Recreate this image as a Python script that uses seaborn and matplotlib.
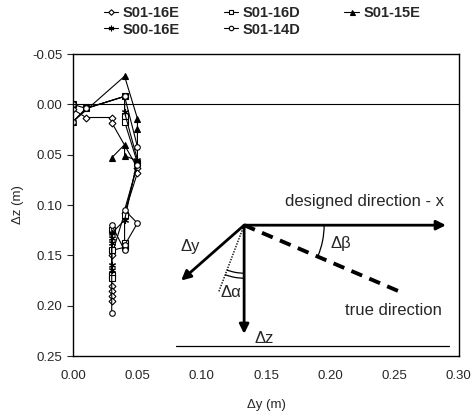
import numpy as np
import pandas as pd
import seaborn as sns
import matplotlib.pyplot as plt
from matplotlib.patches import Arc
from matplotlib.transforms import ScaledTranslation

# Desvios medidos (m) por furo
s01_16e_y = [0.00, 0.01, 0.03, 0.03, 0.05, 0.05, 0.04, 0.03, 0.03, 0.03, 0.03, 0.03]
s01_16e_z = [0.005, 0.013, 0.013, 0.018, 0.063, 0.068, 0.108, 0.150, 0.180, 0.185, 0.190, 0.195]

s01_16d_y = [0.00, 0.01, 0.04, 0.04, 0.04, 0.05, 0.04, 0.04, 0.04, 0.03, 0.03, 0.03, 0.03]
s01_16d_z = [0.000, 0.004, -0.008, 0.012, 0.017, 0.058, 0.110, 0.138, 0.142, 0.145, 0.125, 0.170, 0.172]

s01_15e_y = [0.00, 0.04, 0.05, 0.05, 0.05, 0.04, 0.04, 0.03]
s01_15e_z = [0.017, -0.028, 0.014, 0.024, 0.056, 0.051, 0.040, 0.053]

s00_16e_y = [0.00, 0.01, 0.04, 0.04, 0.05, 0.04, 0.03, 0.03, 0.03, 0.03, 0.03]
s00_16e_z = [0.017, 0.004, -0.008, 0.008, 0.055, 0.115, 0.128, 0.133, 0.138, 0.160, 0.165]

s01_14d_y = [0.00, 0.00, 0.01, 0.04, 0.05, 0.05, 0.04, 0.05, 0.04, 0.04, 0.03, 0.03]
s01_14d_z = [0.000, 0.017, 0.004, -0.008, 0.042, 0.060, 0.105, 0.118, 0.140, 0.145, 0.120, 0.207]

series = ["S01-16E", "S01-16D", "S01-15E", "S00-16E", "S01-14D"]
dados = [(s01_16e_y, s01_16e_z), (s01_16d_y, s01_16d_z), (s01_15e_y, s01_15e_z),
         (s00_16e_y, s00_16e_z), (s01_14d_y, s01_14d_z)]
marcadores = ["D", "s", "^", (6, 2, 0), "o"]
preenchido = ["white", "white", "black", "black", "white"]
tamanhos = [3.5, 4, 4.5, 5, 4]

sns.set_style("ticks")
plt.rcParams["font.family"] = ["Liberation Sans", "DejaVu Sans"]

fig = plt.figure(figsize=(4.72, 4.13), dpi=100)
ax = fig.add_axes([0.155, 0.138, 0.817, 0.731])

linhas = []
for nome, (yy, zz), mk, fc, ms in zip(series, dados, marcadores, preenchido, tamanhos):
    df = pd.DataFrame({"dy": yy, "dz": zz})
    sns.lineplot(data=df, x="dy", y="dz", sort=False, estimator=None, ax=ax,
                 color="black", lw=0.8, marker=mk, markersize=ms,
                 markerfacecolor=fc, markeredgecolor="black", markeredgewidth=0.8)
    linhas.append(ax.get_lines()[-1])

ax.set_xlim(0, 0.30)
ax.set_ylim(0.25, -0.05)
ax.set_xticks(np.arange(0, 0.301, 0.05))
ax.set_yticks(np.arange(-0.05, 0.251, 0.05))
ax.xaxis.set_major_formatter(plt.FormatStrFormatter("%.2f"))
ax.yaxis.set_major_formatter(plt.FormatStrFormatter("%.2f"))
ax.tick_params(axis="x", length=0, labelsize=9.5, pad=10)
ax.tick_params(axis="y", length=4, labelsize=9.5, direction="out")
for s in ax.spines.values():
    s.set_color("black")
    s.set_linewidth(1.0)
ax.axhline(0, color="black", lw=0.8)

ax.set_xlabel("Δy (m)", fontsize=9.5, labelpad=12)
ax.set_ylabel("Δz (m)", fontsize=9.5, labelpad=6)

# Diagrama das direções
o = (0.133, 0.120)
seta = dict(arrowstyle="-|>", lw=2, color="black", mutation_scale=14, shrinkA=0, shrinkB=0)
ax.annotate("", xy=(0.290, o[1]), xytext=o, arrowprops=seta)
ax.annotate("", xy=(o[0], 0.228), xytext=o, arrowprops=seta)
ax.annotate("", xy=(0.084, 0.175), xytext=o, arrowprops=seta)
ax.plot([o[0], 0.254], [o[1], 0.186], color="black", lw=2.8, ls=(0, (3, 2)))
ax.plot([o[0], 0.113], [o[1], 0.187], color="black", lw=1.0, ls=(0, (1, 1)))
ax.plot([0.080, 0.292], [0.240, 0.240], color="black", lw=0.9)

tr = fig.dpi_scale_trans + ScaledTranslation(o[0], o[1], ax.transData)
ax.add_patch(Arc((0, 0), 1.6, 1.6, theta1=-23, theta2=0, transform=tr, color="black", lw=0.9))
ax.add_patch(Arc((0, 0), 0.96, 0.96, theta1=-111, theta2=-90, transform=tr, color="black", lw=0.9))
ax.add_patch(Arc((0, 0), 1.06, 1.06, theta1=-111, theta2=-90, transform=tr, color="black", lw=0.9))

ax.text(0.227, 0.096, "designed direction - x", fontsize=12, ha="center", va="center")
ax.text(0.208, 0.138, "Δβ", fontsize=12, ha="center", va="center")
ax.text(0.091, 0.141, "Δy", fontsize=12, ha="center", va="center")
ax.text(0.123, 0.187, "Δα", fontsize=12, ha="center", va="center")
ax.text(0.249, 0.205, "true direction", fontsize=12, ha="center", va="center")
ax.text(0.149, 0.233, "Δz", fontsize=12, ha="center", va="center")

ordem = [0, 3, 1, 4, 2]
fig.legend([linhas[i] for i in ordem], [series[i] for i in ordem], ncol=3,
           loc="center", bbox_to_anchor=(0.555, 0.948), frameon=False,
           prop={"weight": "bold", "size": 10.5}, handlelength=1.0,
           handletextpad=0.3, columnspacing=3.0, labelspacing=0.15,
           markerscale=0.8)

plt.savefig("out.png", dpi=100)
